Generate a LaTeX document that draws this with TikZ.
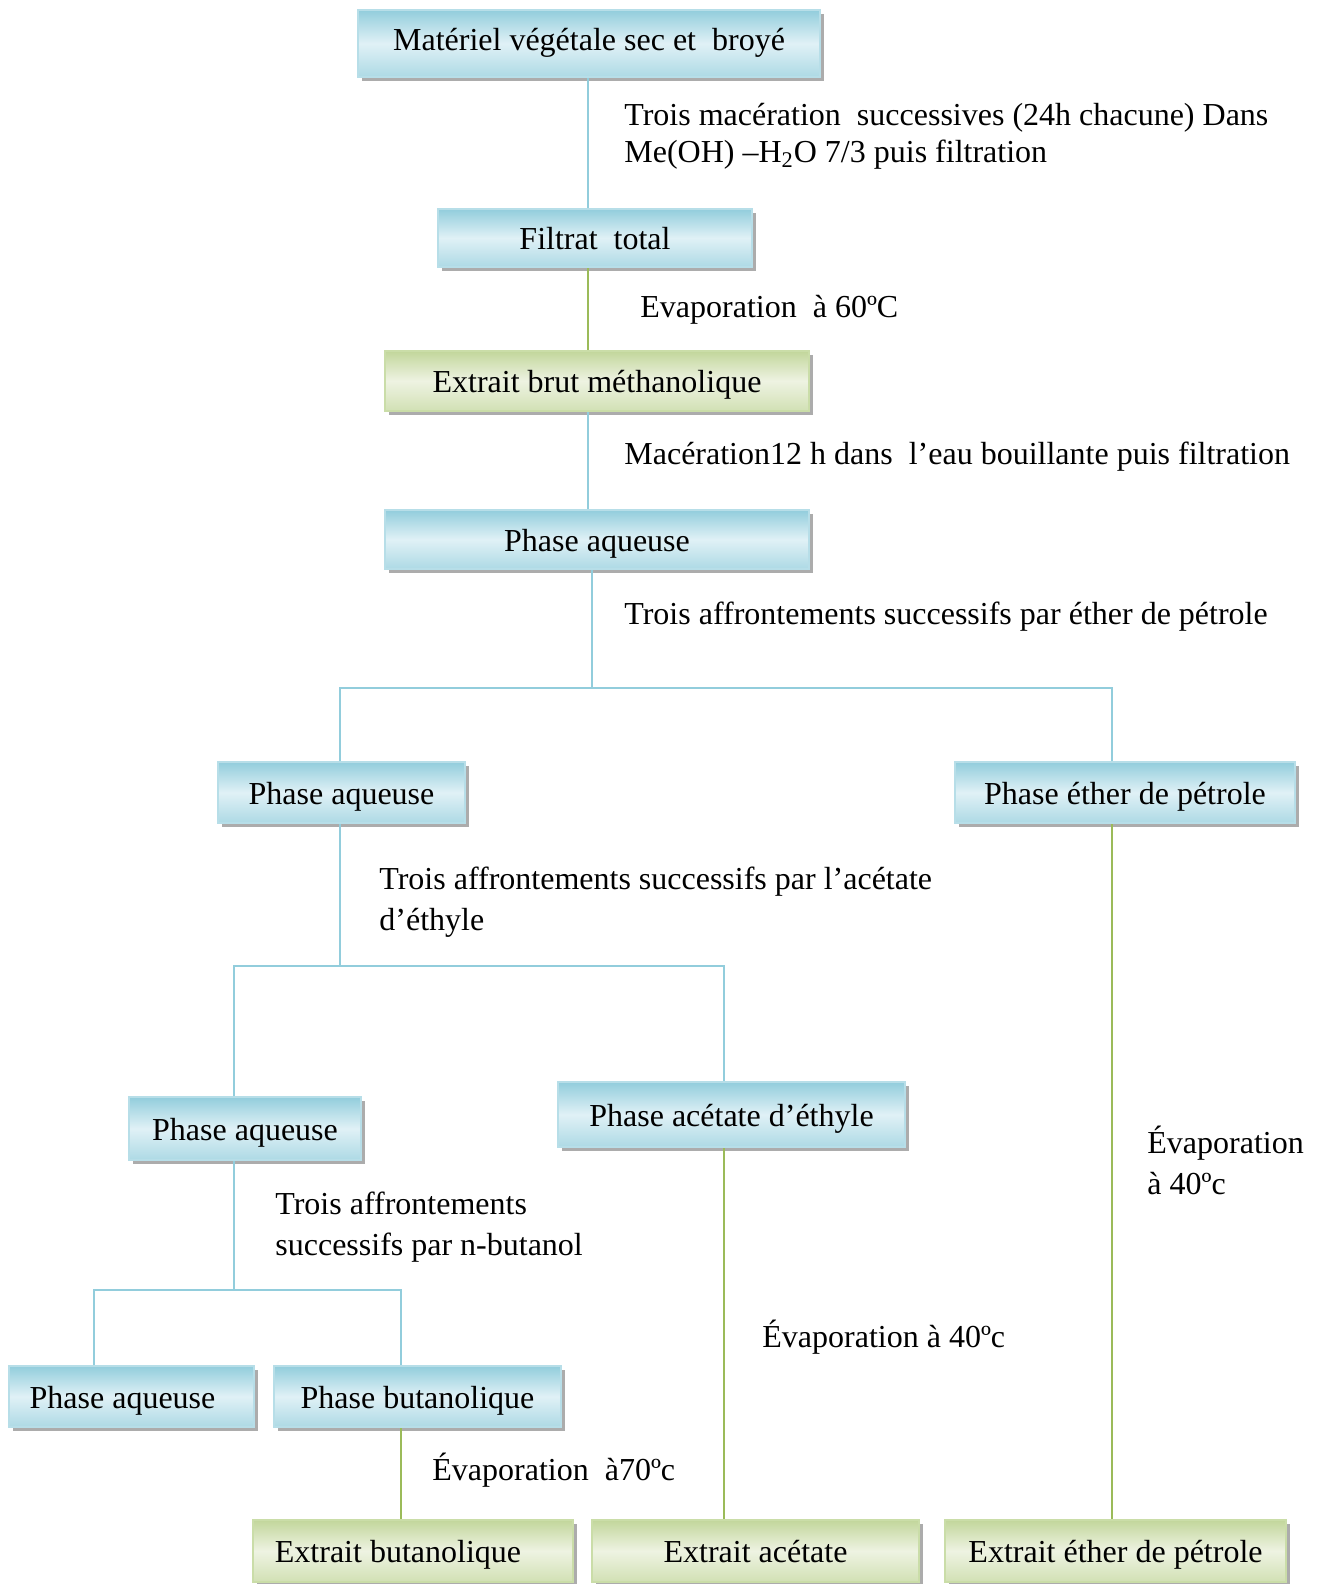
\documentclass[tikz,border=0pt]{standalone}
\usepackage{fontspec}
\setmainfont{Liberation Serif}
\usetikzlibrary{shadows}
\definecolor{aquaD}{RGB}{146,205,220}
\definecolor{aquaL}{RGB}{224,241,246}
\definecolor{aquaEdge}{RGB}{183,222,232}
\definecolor{oliveD}{RGB}{194,214,155}
\definecolor{oliveL}{RGB}{238,243,226}
\definecolor{oliveEdge}{RGB}{202,221,168}
\definecolor{linkB}{RGB}{146,205,220}
\definecolor{linkG}{RGB}{155,187,89}
\tikzset{
  stage/.style={draw=aquaEdge, line width=1pt, top color=aquaD, bottom color=aquaD!75, middle color=aquaL,
    drop shadow={shadow xshift=2pt, shadow yshift=-2pt, fill=gray!65, opacity=1},
    inner sep=0pt, text height=13pt, text depth=1.5pt, font=\fontsize{16}{20}\selectfont},
  product/.style={stage, draw=oliveEdge, top color=oliveD, bottom color=oliveD!75, middle color=oliveL},
  note/.style={anchor=mid west, inner sep=0pt, align=left, font=\fontsize{16}{20.5}\selectfont},
  blink/.style={draw=linkB, line width=1pt},
  glink/.style={draw=linkG, line width=1pt},
}
\begin{document}
\begin{tikzpicture}[x=0.5pt, y=-0.5pt]
    \useasboundingbox (0,0) rectangle (1323,1584);

    % Extraction steps
    \node[stage, minimum width=231pt, minimum height=33.5pt, text height=11pt, text depth=3.5pt] (mat) at (589,43.5) {Matériel végétale sec et~ broyé};
    \node[stage, minimum width=157pt, minimum height=29pt] (filt) at (595,238) {Filtrat~ total};
    \node[product, minimum width=212pt, minimum height=30pt] (ebm) at (597,381) {Extrait brut méthanolique};
    \node[stage, minimum width=212pt, minimum height=29.5pt] (paq1) at (597,539.5) {Phase aqueuse};

    % First partition
    \node[stage, minimum width=123.5pt, minimum height=30.5pt] (paq2) at (341.5,792.5) {Phase aqueuse};
    \node[stage, minimum width=170pt, minimum height=30.5pt] (peth) at (1125,792.5) {Phase éther de pétrole};

    % Second partition
    \node[stage, minimum width=116pt, minimum height=31.5pt] (paq3) at (245,1128.5) {Phase aqueuse};
    \node[stage, minimum width=173.5pt, minimum height=32.5pt] (pacet) at (731.5,1114.5) {Phase acétate d’éthyle};

    % Third partition
    \node[stage, minimum width=122.5pt, minimum height=30.5pt] (paq4) at (131.5,1396.5) {Phase aqueuse\hspace*{9pt}};
    \node[stage, minimum width=143.5pt, minimum height=30.5pt] (pbut) at (417.5,1396.5) {Phase butanolique};

    % Final extracts
    \node[product, minimum width=160pt, minimum height=31pt] (ebut) at (413,1551) {Extrait butanolique\hspace*{15pt}};
    \node[product, minimum width=163.5pt, minimum height=31pt] (eacet) at (755.5,1551) {Extrait acétate};
    \node[product, minimum width=170.5pt, minimum height=31pt] (eeth) at (1115.5,1551) {Extrait éther de pétrole};

    % Line positions and junctions
    \coordinate (xa) at (588,0);
    \coordinate (xb) at (1112,0);
    \coordinate (xc) at (724,0);
    \coordinate (xd) at (94,0);
    \coordinate (xe) at (401,0);
    \coordinate (j1) at (592,688);
    \coordinate (j2) at (340,966);
    \coordinate (j3) at (234,1290);

    % Connectors
    \draw[blink] (mat.south -| xa) -- (filt.north -| xa);
    \draw[glink] (filt.south -| xa) -- (ebm.north -| xa);
    \draw[blink] (ebm.south -| xa) -- (paq1.north -| xa);
    \draw[blink] (paq1.south -| j1) -- (j1);
    \draw[blink] (paq2.north -| j2) |- (j1) -| (peth.north -| xb);
    \draw[blink] (paq2.south -| j2) -- (j2);
    \draw[blink] (paq3.north -| j3) |- (j2) -| (pacet.north -| xc);
    \draw[blink] (paq3.south -| j3) -- (j3);
    \draw[blink] (paq4.north -| xd) |- (j3) -| (pbut.north -| xe);
    \draw[glink] (pbut.south -| xe) -- (ebut.north -| xe);
    \draw[glink] (pacet.south -| xc) -- (eacet.north -| xc);
    \draw[glink] (peth.south -| xb) -- (eeth.north -| xb);

    % Step labels
    \node[note, anchor=west, font=\fontsize{16}{18.7}\selectfont] (n1) at (624,136) {Trois macération~ successives (24h chacune) Dans\\Me(OH) –H\textsubscript{2}O 7/3 puis filtration};
    \node[note] (n2) at (640,313) {Evaporation~ à 60ºC};
    \node[note] (n3) at (624,460) {Macération12 h dans~ l’eau bouillante puis filtration};
    \node[note] (n4) at (624,620) {Trois affrontements successifs par éther de pétrole};
    \node[note, anchor=west] (n5) at (379,902) {Trois affrontements successifs par l’acétate\\d’éthyle};
    \node[note, anchor=west] (n6) at (1147,1160) {Évaporation\\à 40ºc};
    \node[note, anchor=west] (n7) at (275,1227) {Trois affrontements\\successifs par n-butanol};
    \node[note] (n8) at (762,1343) {Évaporation à 40ºc};
    \node[note] (n9) at (432,1476) {Évaporation~ à70ºc};
\end{tikzpicture}
\end{document}
